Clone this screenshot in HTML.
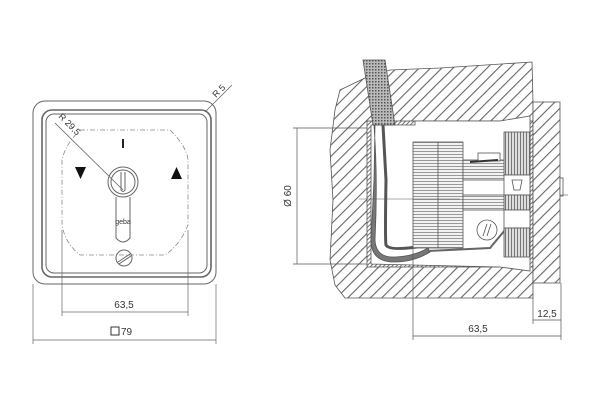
<!DOCTYPE html>
<html><head><meta charset="utf-8"><style>html,body{margin:0;padding:0;background:#fff}svg{display:block}text{font-family:"Liberation Sans",sans-serif;fill:#333}</style></head><body>
<svg width="600" height="400" viewBox="0 0 600 400" xmlns="http://www.w3.org/2000/svg">
<defs>
<pattern id="h" width="8" height="8" patternUnits="userSpaceOnUse" patternTransform="rotate(45)"><rect width="8" height="8" fill="#fff"/><rect x="0" y="0" width="1.1" height="8" fill="#666"/></pattern>
<pattern id="hf" width="3" height="3" patternUnits="userSpaceOnUse" patternTransform="rotate(45)"><rect width="3" height="3" fill="#fff"/><rect x="0" y="0" width="0.9" height="3" fill="#666"/></pattern>
<pattern id="x" width="3" height="3" patternUnits="userSpaceOnUse"><rect width="3" height="3" fill="#bbb"/><rect width="1.5" height="1.5" fill="#555"/></pattern>
<pattern id="st" width="4" height="3" patternUnits="userSpaceOnUse"><rect width="4" height="3" fill="#f2f2f2"/><rect x="0" y="1" width="4" height="1" fill="#999"/></pattern>
<pattern id="vs" width="3" height="4" patternUnits="userSpaceOnUse"><rect width="3" height="4" fill="#ddd"/><rect x="1" y="0" width="1" height="4" fill="#777"/></pattern>
</defs>
<g fill="none" stroke="#666" stroke-width="1">
<rect x="33" y="101" width="183" height="183" rx="12"/>
<rect x="42" y="110" width="169" height="167" rx="10" stroke-width="1.6"/>
<rect x="46" y="114" width="161" height="159" rx="8"/>
<path d="M80 130 L170 130 Q187 147 188 160 L188 225 Q180 245 165 255 L80 255 Q65 243 62 225 L62 160 Q65 145 80 130Z" stroke="#888" stroke-dasharray="5 2 1 2" stroke-width="0.8"/>
<line x1="123" y1="139" x2="123" y2="148" stroke="#222" stroke-width="2"/>
<polygon points="75,167 86,167 80.5,179" fill="#111" stroke="none"/>
<polygon points="171,179 182,179 176.5,167" fill="#111" stroke="none"/>
<circle cx="123" cy="182" r="15"/><circle cx="123" cy="182" r="12"/>
<path d="M121 172 L121 190 Q123 193 125 190 L125 172" />
<path d="M116 197 L116 238 Q123 246 130 238 L130 197"/>
<text x="123" y="224" font-size="7" text-anchor="middle" stroke="none">geba</text>
<circle cx="124" cy="258" r="8"/><line x1="118" y1="262" x2="130" y2="254"/><line x1="119" y1="264" x2="131" y2="256"/>
<line x1="55" y1="123" x2="123" y2="190" stroke-width="0.8"/>
<line x1="205" y1="112" x2="232" y2="85" stroke-width="0.8"/>
<g stroke-width="0.7">
<line x1="62" y1="230" x2="62" y2="316"/><line x1="188" y1="230" x2="188" y2="316"/>
<line x1="62" y1="312" x2="188" y2="312"/>
<line x1="33" y1="284" x2="33" y2="344"/><line x1="216" y1="284" x2="216" y2="344"/>
<line x1="33" y1="340" x2="216" y2="340"/>
</g>
</g>
<text x="0" y="0" font-size="9" transform="translate(58,117) rotate(45)">R 29,5</text>
<text x="0" y="0" font-size="9" transform="translate(216,98) rotate(-45)">R 5</text>
<text x="124" y="308" font-size="10" text-anchor="middle">63,5</text>
<rect x="111" y="327" width="8" height="8" fill="none" stroke="#333"/>
<text x="121" y="335" font-size="10">79</text>
<g stroke="#555" stroke-width="0.8">
<path d="M340 90 L365 78 L390 70 L440 68 L532 62 L533 102 L533 298 L345 298 L335 285 L330 260 L333 200 L330 150 L335 110Z" fill="url(#h)"/>
<rect x="367" y="121" width="166" height="146" fill="url(#hf)"/>
<path d="M371 125 L415 125 L415 121 L500 121 L530 116 L530 271 L500 267 L371 264Z" fill="#fff"/>
<rect x="533" y="102" width="27" height="181" fill="url(#h)"/>
<rect x="560" y="178" width="3" height="18" fill="#fff"/>
<path d="M363 60 L385 60 L395 125 L373 125Z" fill="url(#x)"/>
<path d="M374 125 Q378 180 375 240 Q376 258 395 257 Q415 256 428 248 L430 252 Q414 262 394 262 Q371 262 371 240 L374 180 L375 125Z" fill="#777"/>
<path d="M383 125 L386 180 Q385 240 386 245 Q390 252 428 245" fill="none" stroke="#555" stroke-width="3"/>
<rect x="413" y="142" width="50" height="106" fill="url(#st)"/>
<line x1="438" y1="142" x2="438" y2="248"/>
<rect x="463" y="160" width="42" height="20" fill="url(#st)"/>
<rect x="463" y="195" width="42" height="15" fill="url(#st)"/>
<rect x="478" y="153" width="22" height="8" fill="#fff"/>
<line x1="470" y1="162" x2="498" y2="160" stroke="#333" stroke-width="2"/>
<circle cx="487" cy="230" r="10" fill="#fff"/>
<line x1="483" y1="236" x2="487" y2="224"/><line x1="487" y1="236" x2="491" y2="224"/>
<path d="M428 251 L490 248 L505 230" fill="none" stroke="#666" stroke-width="2"/>
<rect x="504" y="132" width="26" height="43" fill="url(#vs)"/>
<rect x="504" y="175" width="26" height="20" fill="#fff"/>
<rect x="504" y="195" width="26" height="15" fill="url(#vs)"/>
<rect x="504" y="210" width="26" height="18" fill="#fff"/>
<rect x="504" y="228" width="26" height="29" fill="url(#vs)"/>
<path d="M512 180 L522 180 L520 190 L514 190Z" fill="#fff"/>
<line x1="359" y1="199" x2="460" y2="199" stroke-width="0.6"/>
<line x1="560" y1="195" x2="568" y2="195" stroke-width="0.6"/>
</g>
<g stroke="#555" stroke-width="0.7">
<line x1="293" y1="128" x2="367" y2="128"/><line x1="293" y1="264" x2="367" y2="264"/>
<line x1="297" y1="128" x2="297" y2="264"/>
<line x1="413" y1="248" x2="413" y2="340"/><line x1="533" y1="298" x2="533" y2="324"/><line x1="561" y1="283" x2="561" y2="340"/>
<line x1="413" y1="336" x2="561" y2="336"/><line x1="533" y1="320" x2="561" y2="320"/>
</g>
<text x="0" y="0" font-size="10" text-anchor="middle" transform="translate(291,196) rotate(-90)">Ø 60</text>
<text x="478" y="332" font-size="10" text-anchor="middle">63,5</text>
<text x="547" y="317" font-size="10" text-anchor="middle">12,5</text>
</svg>
</body></html>
